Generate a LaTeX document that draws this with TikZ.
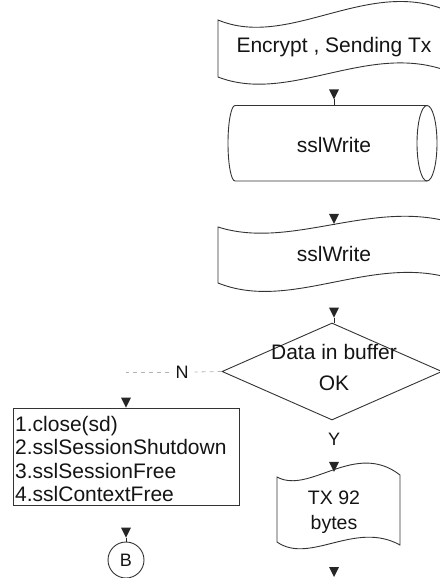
\documentclass[tikz,border=0pt]{standalone}
\usepackage{fontspec}
\setmainfont{Liberation Sans}
\usetikzlibrary{shapes.geometric,decorations.markings}

\tikzset{
  outline/.style={draw=black!80, line width=0.9pt},
  % invisible connector that only shows a small filled triangle (plus an optional stem) at its end
  flow/.style={decorate, decoration={markings, mark=at position 1 with {
      \draw[black!85, line width=0.9pt] (-#1,0) -- (0,0);
      \fill[black!85] (-#1,0) -- ++(-10pt,5pt) -- ++(0,-10pt) -- cycle;}}},
  flow/.default=0pt,
  textbox/.style={inner sep=0pt, align=center, text=black!92},
  bigtext/.style={font=\fontsize{21}{24}\selectfont},
  smalltext/.style={font=\fontsize{18}{22}\selectfont},
  nline/.style={draw=black!30, line width=0.8pt, dash pattern=on 4pt off 4pt},
}

\begin{document}
\begin{tikzpicture}[x=1pt, y=-1pt]
\useasboundingbox (0,0) rectangle (439,578);

% punched tape: Encrypt, Sending Tx
\draw[outline] (218,20) .. controls (290,50) and (370,-25) .. (450,12)
  -- (450,72) .. controls (370,40) and (290,105) .. (218,77) -- cycle;
\node[textbox, bigtext, minimum width=232pt, minimum height=58pt] (enc) at (334,47) {Encrypt , Sending Tx};

% direct access storage: sslWrite
\draw[outline] (427,105.5) -- (235,105.5) arc[start angle=270, end angle=90, x radius=7, y radius=37.75] -- (427,181);
\draw[outline] (427,143.25) ellipse [x radius=10, y radius=37.75];
\node[textbox, bigtext, minimum width=190pt, minimum height=79pt] (cyl) at (334,145) {sslWrite};

% punched tape: sslWrite
\draw[outline] (218,227) .. controls (290,250) and (370,200) .. (450,222)
  -- (450,278) .. controls (370,255) and (290,312) .. (218,283) -- cycle;
\node[textbox, bigtext, minimum width=232pt, minimum height=57pt] (wr) at (334,253.5) {sslWrite};

% decision
\node[outline, diamond, minimum width=220pt, minimum height=97pt, inner sep=0pt] (dia) at (332,371.5) {};
\node[textbox, font=\fontsize{21}{31}\selectfont] (diatext) at (334,367.5) {Data in buffer\\OK};

% clean-up steps
\node[outline, minimum width=226pt, minimum height=97pt, inner sep=0pt] (box) at (126,456.5) {};
\node[anchor=north west, inner sep=0pt, align=left, text=black!92, font=\fontsize{21}{23.5}\selectfont] (boxtext) at (15,416)
  {1.close(sd)\\2.sslSessionShutdown\\3.sslSessionFree\\4.sslContextFree};

% off-page connector
\node[outline, circle, minimum size=36pt, inner sep=0pt, smalltext, text=black!92] (B) at (126,560) {B};

% punched tape: TX 92 bytes
\draw[outline] (277,477) .. controls (310,495) and (355,440) .. (400,475)
  -- (400,545) .. controls (355,520) and (310,565) .. (277,542) -- cycle;
\node[textbox, font=\fontsize{19.5}{25}\selectfont, minimum width=123pt, minimum height=80pt] (tx) at (334,512) {TX 92\\bytes};

% branch labels
\node[smalltext, text=black!92, inner xsep=6pt, inner ysep=1pt] (N) at (182,372) {N};
\node[smalltext, text=black!92, inner sep=1pt] (Y) at (334,439) {Y};
\coordinate (ncorner) at (126,372);
\coordinate (exit) at (334,577);

% connectors
\path[flow=6pt] (enc.south) -- (cyl.north);
\path[flow=1pt] (cyl.south) -- (wr.north);
\path[flow=5pt] (wr.south) -- (wr.south |- dia.north);
\draw[nline] (dia.west) -- (N.east);
\draw[nline] (N.west) -- (ncorner);
\path[flow] (ncorner) -- (box.north);
\path[flow=4pt] (box.south) -- (B.north);
\path[flow] (Y.south) -- (tx.north);
\path[flow] (tx.south) -- (exit);
\end{tikzpicture}
\end{document}
